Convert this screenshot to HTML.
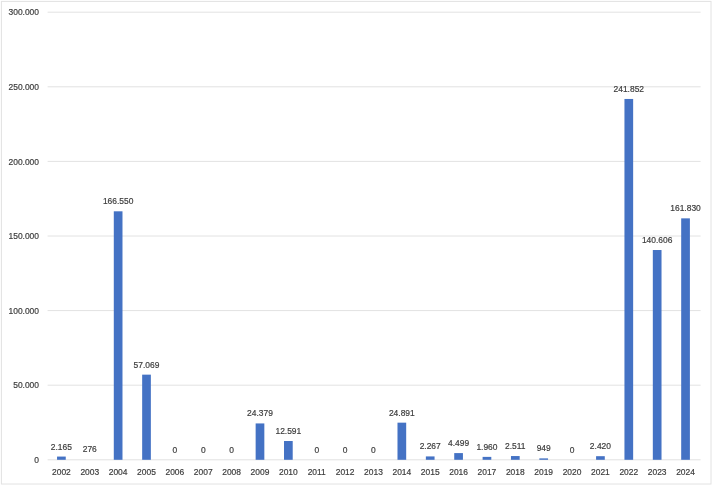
<!DOCTYPE html>
<html lang="en"><head><meta charset="utf-8"><title>Chart</title>
<style>
html,body{margin:0;padding:0;background:#fff;}
body{width:713px;height:486px;overflow:hidden;}
svg{display:block;}
text{font-family:"Liberation Sans",Arial,sans-serif;font-size:8.45px;fill:#3c3c3c;stroke:#3c3c3c;stroke-width:0.18px;}
</style></head><body>
<svg width="713" height="486" viewBox="0 0 713 486">
<rect x="0" y="0" width="713" height="486" fill="#fff"/>
<rect x="1.4" y="1.4" width="709.6" height="482.6" fill="#fff" stroke="#e2e2e2" stroke-width="1"/>

<line x1="47.6" x2="700.6" y1="12.20" y2="12.20" stroke="#e2e2e2" stroke-width="1"/>
<text x="39" y="15.30" text-anchor="end">300.000</text>
<line x1="47.6" x2="700.6" y1="86.80" y2="86.80" stroke="#e2e2e2" stroke-width="1"/>
<text x="39" y="89.90" text-anchor="end">250.000</text>
<line x1="47.6" x2="700.6" y1="161.40" y2="161.40" stroke="#e2e2e2" stroke-width="1"/>
<text x="39" y="164.50" text-anchor="end">200.000</text>
<line x1="47.6" x2="700.6" y1="236.00" y2="236.00" stroke="#e2e2e2" stroke-width="1"/>
<text x="39" y="239.10" text-anchor="end">150.000</text>
<line x1="47.6" x2="700.6" y1="310.60" y2="310.60" stroke="#e2e2e2" stroke-width="1"/>
<text x="39" y="313.70" text-anchor="end">100.000</text>
<line x1="47.6" x2="700.6" y1="385.20" y2="385.20" stroke="#e2e2e2" stroke-width="1"/>
<text x="39" y="388.30" text-anchor="end">50.000</text>
<line x1="47.6" x2="700.6" y1="459.80" y2="459.80" stroke="#e2e2e2" stroke-width="1"/>
<text x="39" y="462.90" text-anchor="end">0</text>
<rect x="57.05" y="456.57" width="8.7" height="3.23" fill="#4472c4"/>
<text x="61.40" y="449.57" text-anchor="middle">2.165</text>
<text x="61.40" y="475.4" text-anchor="middle">2002</text>
<text x="89.77" y="452.39" text-anchor="middle">276</text>
<text x="89.77" y="475.4" text-anchor="middle">2003</text>
<rect x="113.79" y="211.31" width="8.7" height="248.49" fill="#4472c4"/>
<text x="118.14" y="204.31" text-anchor="middle">166.550</text>
<text x="118.14" y="475.4" text-anchor="middle">2004</text>
<rect x="142.16" y="374.65" width="8.7" height="85.15" fill="#4472c4"/>
<text x="146.51" y="367.65" text-anchor="middle">57.069</text>
<text x="146.51" y="475.4" text-anchor="middle">2005</text>
<text x="174.88" y="452.80" text-anchor="middle">0</text>
<text x="174.88" y="475.4" text-anchor="middle">2006</text>
<text x="203.25" y="452.80" text-anchor="middle">0</text>
<text x="203.25" y="475.4" text-anchor="middle">2007</text>
<text x="231.62" y="452.80" text-anchor="middle">0</text>
<text x="231.62" y="475.4" text-anchor="middle">2008</text>
<rect x="255.64" y="423.43" width="8.7" height="36.37" fill="#4472c4"/>
<text x="259.99" y="416.43" text-anchor="middle">24.379</text>
<text x="259.99" y="475.4" text-anchor="middle">2009</text>
<rect x="284.01" y="441.01" width="8.7" height="18.79" fill="#4472c4"/>
<text x="288.36" y="434.01" text-anchor="middle">12.591</text>
<text x="288.36" y="475.4" text-anchor="middle">2010</text>
<text x="316.73" y="452.80" text-anchor="middle">0</text>
<text x="316.73" y="475.4" text-anchor="middle">2011</text>
<text x="345.10" y="452.80" text-anchor="middle">0</text>
<text x="345.10" y="475.4" text-anchor="middle">2012</text>
<text x="373.47" y="452.80" text-anchor="middle">0</text>
<text x="373.47" y="475.4" text-anchor="middle">2013</text>
<rect x="397.49" y="422.66" width="8.7" height="37.14" fill="#4472c4"/>
<text x="401.84" y="415.66" text-anchor="middle">24.891</text>
<text x="401.84" y="475.4" text-anchor="middle">2014</text>
<rect x="425.86" y="456.42" width="8.7" height="3.38" fill="#4472c4"/>
<text x="430.21" y="449.42" text-anchor="middle">2.267</text>
<text x="430.21" y="475.4" text-anchor="middle">2015</text>
<rect x="454.23" y="453.09" width="8.7" height="6.71" fill="#4472c4"/>
<text x="458.58" y="446.09" text-anchor="middle">4.499</text>
<text x="458.58" y="475.4" text-anchor="middle">2016</text>
<rect x="482.60" y="456.88" width="8.7" height="2.92" fill="#4472c4"/>
<text x="486.95" y="449.88" text-anchor="middle">1.960</text>
<text x="486.95" y="475.4" text-anchor="middle">2017</text>
<rect x="510.97" y="456.05" width="8.7" height="3.75" fill="#4472c4"/>
<text x="515.32" y="449.05" text-anchor="middle">2.511</text>
<text x="515.32" y="475.4" text-anchor="middle">2018</text>
<rect x="539.34" y="458.38" width="8.7" height="1.42" fill="#4472c4"/>
<text x="543.69" y="451.38" text-anchor="middle">949</text>
<text x="543.69" y="475.4" text-anchor="middle">2019</text>
<text x="572.06" y="452.80" text-anchor="middle">0</text>
<text x="572.06" y="475.4" text-anchor="middle">2020</text>
<rect x="596.08" y="456.19" width="8.7" height="3.61" fill="#4472c4"/>
<text x="600.43" y="449.19" text-anchor="middle">2.420</text>
<text x="600.43" y="475.4" text-anchor="middle">2021</text>
<rect x="624.45" y="98.96" width="8.7" height="360.84" fill="#4472c4"/>
<text x="628.80" y="91.96" text-anchor="middle">241.852</text>
<text x="628.80" y="475.4" text-anchor="middle">2022</text>
<rect x="652.82" y="250.02" width="8.7" height="209.78" fill="#4472c4"/>
<text x="657.17" y="243.02" text-anchor="middle">140.606</text>
<text x="657.17" y="475.4" text-anchor="middle">2023</text>
<rect x="681.19" y="218.35" width="8.7" height="241.45" fill="#4472c4"/>
<text x="685.54" y="211.35" text-anchor="middle">161.830</text>
<text x="685.54" y="475.4" text-anchor="middle">2024</text>
</svg></body></html>
